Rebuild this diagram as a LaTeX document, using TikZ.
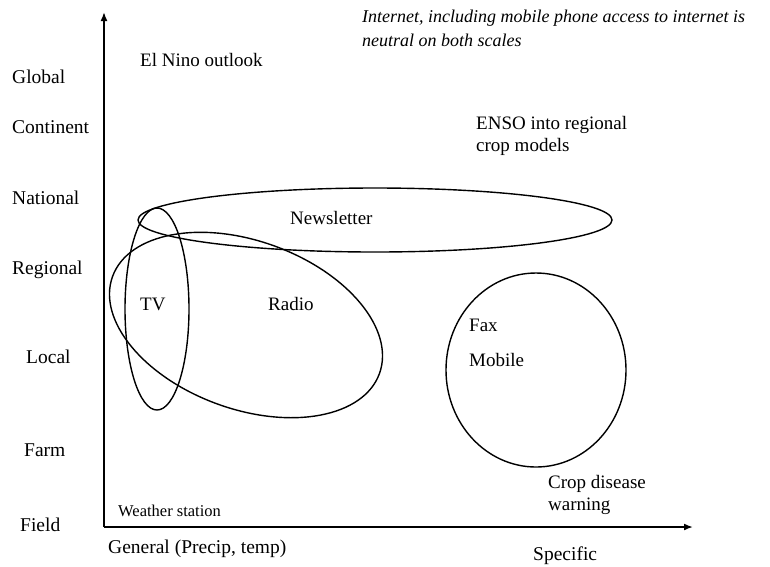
\documentclass[tikz,border=0pt]{standalone}
\usepackage{fontspec}
\setmainfont{Liberation Serif}
\usetikzlibrary{arrows.meta}

\begin{document}
\begin{tikzpicture}[
    x=1pt, y=-1pt,
    lvl/.style={anchor=west, inner sep=0pt, font=\fontsize{19.5}{21}\selectfont},
    lbl/.style={anchor=west, inner sep=0pt, align=left, font=\fontsize{19}{22}\selectfont},
    note/.style={anchor=north west, inner sep=0pt, align=left,
                 font=\fontsize{18}{24}\selectfont\itshape},
    small/.style={anchor=west, inner sep=0pt, font=\fontsize{16.5}{18}\selectfont},
    ax/.style={-{Latex[length=9pt, width=7pt]}, line width=1.7pt},
    ring/.style={line width=1.4pt},
  ]
  \useasboundingbox (0,0) rectangle (770,566);

  % axes
  \coordinate (orig) at (104,527);
  \coordinate (ytip) at (104,12);
  \coordinate (xtip) at (693,527);
  \draw[ax] (orig) -- (ytip);
  \draw[ax] (orig) -- (xtip);

  % scale levels
  \node[lvl] (global) at (12,77) {Global};
  \node[lvl] (cont) at (12,127) {Continent};
  \node[lvl] (nat) at (12,198) {National};
  \node[lvl] (reg) at (12,270) {Regional};
  \node[lvl] (local) at (26,357) {Local};
  \node[lvl] (farm) at (24,450) {Farm};
  \node[lvl] (field) at (20,525) {Field};

  \node[lvl] (gen) at (108,549) {General (Precip, temp)};
  \node[lvl] (spec) at (533,556) {Specific};

  % ellipses
  \draw[ring] (375,220) ellipse [x radius=237, y radius=32];
  \draw[ring] (157,309) ellipse [x radius=32, y radius=101];
  \draw[ring, rotate around={-20:(246,325)}] (246,325) ellipse [x radius=142, y radius=84];
  \draw[ring] (536,370) ellipse [x radius=90, y radius=97];

  % labels
  \node[note] (inet) at (362,10) {Internet, including mobile phone access to internet is\\neutral on both scales};
  \node[lbl] (elnino) at (140,60) {El Nino outlook};
  \node[lbl] (enso) at (476,136) {ENSO into regional\\crop models};
  \node[lbl] (news) at (290,218) {Newsletter};
  \node[lbl] (tv) at (140,304) {TV};
  \node[lbl] (radio) at (268,304) {Radio};
  \node[lbl] (fax) at (469,325) {Fax};
  \node[lbl] (mob) at (469,360) {Mobile};
  \node[lbl] (crop) at (548,495) {Crop disease\\warning};
  \node[small] (wst) at (118,511) {Weather station};
\end{tikzpicture}
\end{document}
